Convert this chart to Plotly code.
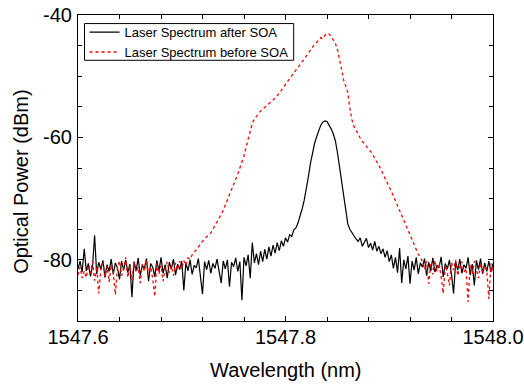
import plotly.graph_objects as go

# wavelength sampling grid (nm)
wl_start = 1547.6
wl_step = 0.002
n_points = 201
wavelength = [round(wl_start + wl_step * i, 4) for i in range(n_points)]

after_soa = [
    -81.5, -80.2, -82.0, -78.2, -81.8, -80.6, -82.7, -81.0, -76.0, -82.3,
    -80.4, -81.6, -80.1, -82.9, -80.8, -81.9, -79.9, -82.4, -80.5, -81.3,
    -83.2, -80.2, -81.7, -80.0, -82.1, -80.7, -86.1, -80.3, -81.8, -79.7,
    -82.6, -80.9, -81.4, -79.8, -83.5, -80.6, -81.2, -82.8, -80.1, -81.9,
    -79.6, -82.2, -80.8, -83.0, -80.4, -81.5, -79.9, -82.5, -80.7, -81.6,
    -80.2, -85.0, -80.5, -81.8, -80.0, -82.4, -80.9, -81.3, -79.8, -82.7,
    -85.6, -80.3, -81.6, -80.1, -82.2, -80.6, -81.4, -79.9, -82.0, -83.8,
    -80.2, -81.5, -80.0, -84.4, -80.4, -81.1, -79.7, -81.9, -80.3, -86.6,
    -79.6, -81.0, -79.2, -83.0, -77.2, -80.5, -79.0, -80.8, -78.6, -80.3,
    -78.3, -79.9, -77.9, -79.4, -77.6, -78.9, -77.2, -78.5, -76.9, -77.8,
    -76.4, -77.1, -75.9, -76.2, -75.1, -74.8, -74.0, -73.0, -71.7, -70.3,
    -68.6, -66.5, -64.3, -62.5, -61.0, -59.9, -58.8, -58.0, -57.5, -57.3,
    -57.4, -57.9, -58.6, -59.4, -60.5, -62.4, -64.8, -67.3, -69.9, -72.3,
    -74.1, -75.0, -75.6, -76.2, -76.6, -77.0, -76.4, -77.8, -77.1, -76.5,
    -78.0, -77.3, -78.4, -77.0, -78.6, -77.8, -79.0, -78.2, -79.6, -78.5,
    -80.3, -79.2, -81.4, -79.6, -82.1, -78.1, -83.8, -80.0, -81.5, -79.4,
    -83.9, -80.2, -81.7, -79.6, -82.3, -80.5, -81.2, -79.8, -82.6, -80.4,
    -81.8, -79.7, -82.0, -80.9, -81.3, -79.5, -82.8, -80.6, -81.5, -80.0,
    -82.4, -85.5, -80.3, -81.7, -79.9, -82.2, -80.8, -81.4, -79.6, -82.5,
    -80.7, -84.2, -80.1, -81.6, -79.8, -82.3, -80.5, -81.9, -80.2, -82.0,
    -80.6,
]

before_soa = [
    -82.5, -81.2, -83.0, -81.8, -82.9, -80.9, -82.2, -80.3, -83.4, -81.1,
    -85.5, -81.6, -80.5, -82.7, -81.0, -83.6, -80.8, -82.1, -85.7, -81.3,
    -80.2, -82.6, -81.4, -79.6, -82.9, -81.0, -83.3, -80.4, -82.0, -81.2,
    -83.8, -80.7, -81.9, -80.0, -82.5, -81.1, -83.1, -86.0, -80.6, -82.3,
    -80.9, -83.5, -81.4, -80.3, -82.1, -81.0, -82.6, -80.5, -81.7, -80.2,
    -81.5, -80.1, -80.9, -79.7, -79.9, -79.2, -78.8, -78.3, -77.9, -77.4,
    -77.0, -76.6, -76.2, -75.9, -75.6, -75.0, -74.5, -74.0, -73.3, -72.6,
    -71.9, -71.1, -70.3, -69.5, -68.6, -67.8, -66.9, -66.0, -65.0, -64.0,
    -63.0, -61.6, -60.2, -58.9, -57.7, -57.0, -56.5, -56.1, -55.7, -55.4,
    -55.1, -54.8, -54.6, -54.3, -54.0, -53.6, -53.2, -52.8, -52.3, -51.8,
    -51.3, -50.9, -50.4, -49.9, -49.5, -49.0, -48.6, -48.1, -47.6, -47.1,
    -46.7, -46.2, -45.8, -45.3, -44.8, -44.5, -44.1, -43.7, -43.9, -43.3,
    -43.0, -43.1, -43.5, -44.0, -44.6, -45.6, -47.0, -48.8, -50.6, -51.5,
    -52.6, -55.2, -57.1, -58.2, -58.9, -59.6, -60.1, -60.6, -61.0, -61.4,
    -61.9, -62.3, -62.8, -63.4, -63.9, -64.5, -65.2, -66.0, -66.8, -67.5,
    -68.1, -68.8, -69.6, -70.3, -71.1, -71.8, -72.6, -73.4, -74.2, -75.0,
    -75.8, -76.6, -77.4, -78.3, -79.1, -79.6, -80.4, -81.6, -80.2, -83.9,
    -80.7, -82.4, -80.1, -81.9, -80.6, -82.8, -85.5, -80.9, -82.2, -84.2,
    -80.4, -81.7, -80.0, -82.6, -81.1, -80.3, -82.0, -81.4, -86.9, -80.8,
    -82.3, -80.2, -81.6, -83.0, -80.5, -82.1, -80.9, -81.8, -86.4, -80.6,
    -82.0,
]

x_tickvals = [1547.6, 1547.8, 1548.0]
x_ticktext = ["1547.6", "1547.8", "1548.0"]
y_tickvals = [-80, -60, -40]
y_ticktext = ["-80", "-60", "-40"]

FONT = "Arial, Liberation Sans, sans-serif"

fig = go.Figure()
fig.add_trace(go.Scatter(
    x=wavelength, y=after_soa, mode="lines",
    name="Laser Spectrum after SOA",
    line=dict(color="black", width=1.2),
))
fig.add_trace(go.Scatter(
    x=wavelength, y=before_soa, mode="lines",
    name="Laser Spectrum before SOA",
    line=dict(color="#ff0000", width=1.3, dash="dot"),
))

axis_common = dict(
    showline=True, linecolor="black", linewidth=1.2, mirror="ticks",
    ticks="inside", ticklen=5, tickcolor="black", tickwidth=1,
    showgrid=False, zeroline=False, automargin=False,
    ticklabeloverflow="allow",
    tickfont=dict(family=FONT, size=20, color="black"),
)

fig.update_xaxes(
    range=[1547.6, 1548.0], tickmode="array",
    tickvals=x_tickvals, ticktext=x_ticktext,
    minor=dict(tickmode="linear", tick0=1547.6, dtick=0.04,
               ticks="inside", ticklen=4, tickcolor="black"),
    ticklabelstandoff=-2,
    **axis_common,
)
fig.update_yaxes(
    range=[-90, -40], tickmode="array",
    tickvals=y_tickvals, ticktext=y_ticktext,
    minor=dict(tickmode="linear", tick0=-40, dtick=5,
               ticks="inside", ticklen=4, tickcolor="black"),
    ticklabelstandoff=1,
    **axis_common,
)

fig.add_annotation(
    text="Optical Power (dBm)", textangle=-90,
    xref="paper", yref="paper", x=-0.136, y=0.4565,
    xanchor="center", yanchor="middle", showarrow=False,
    font=dict(family=FONT, size=20, color="black"),
)
fig.add_annotation(
    text="Wavelength (nm)",
    xref="paper", yref="paper", x=0.5, y=-0.16,
    xanchor="center", yanchor="middle", showarrow=False,
    font=dict(family=FONT, size=20, color="black"),
)

# legend frame (compact box like the original)
fig.add_shape(
    type="rect", xref="paper", yref="paper",
    x0=0.0157, x1=0.5197, y0=0.852, y1=0.972,
    line=dict(color="black", width=1), fillcolor="white", layer="below",
)

fig.update_layout(
    width=524, height=386,
    margin=dict(l=78, r=31, t=15, b=65),
    paper_bgcolor="white", plot_bgcolor="white",
    showlegend=True,
    legend=dict(
        x=0.0157, y=0.993, xanchor="left", yanchor="top",
        bgcolor="rgba(0,0,0,0)", borderwidth=0,
        font=dict(family=FONT, size=13, color="black"),
        tracegroupgap=0, itemwidth=30,
    ),
)

fig.write_html(
    "out.html",
    config={"displayModeBar": False},
    post_script="document.body.style.margin='0';document.body.style.overflow='hidden';",
)
